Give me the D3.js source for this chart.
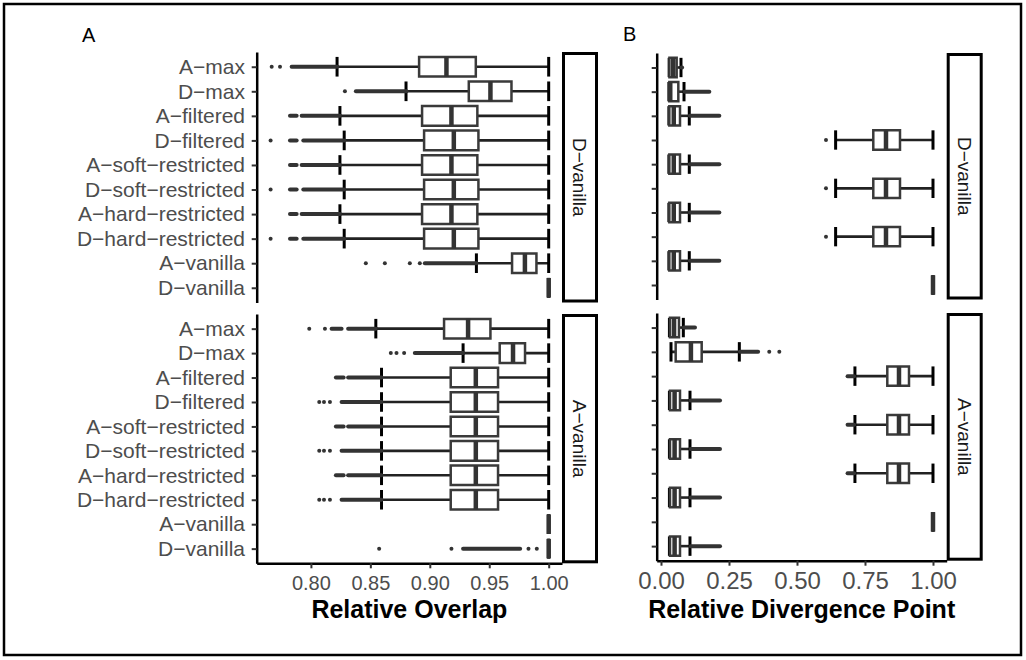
<!DOCTYPE html>
<meta charset="utf-8">
<style>
body{margin:0;background:#fff;}
text{font-family:"Liberation Sans",Arial,Helvetica,sans-serif;}
.domain{stroke:#000;stroke-width:2.5px;}
.tick line{stroke:#333;stroke-width:2px;}
.tick text{fill:#4d4d4d;}
.title{font-weight:bold;font-size:25px;text-anchor:middle;fill:#000;}
.letter{font-size:20px;fill:#000;}
.strip rect{fill:#fff;stroke:#000;stroke-width:3px;}
.strip text{fill:#1a1a1a;font-size:19px;text-anchor:middle;}
</style>
<body>
<script src="https://cdn.jsdelivr.net/npm/d3@7"></script>
<script>

var methods = ["A−max","D−max","A−filtered","D−filtered","A−soft−restricted","D−soft−restricted",
	"A−hard−restricted","D−hard−restricted","A−vanilla","D−vanilla"];
var facets = ["D−vanilla","A−vanilla"];
var overlapTicks = [0.80,0.85,0.90,0.95,1.00];
var divergenceTicks = [0.00,0.25,0.50,0.75,1.00];

// [lower whisker, Q1, median, Q3, upper whisker] per method
var overlapDV = [
	[0.822,0.891,0.914,0.9387,1.0],
	[0.880,0.9328,0.951,0.9687,1.0],
	[0.8244,0.8935,0.9182,0.940,1.0],
	[0.828,0.8952,0.9202,0.9409,1.0],
	[0.8244,0.8935,0.9182,0.940,1.0],
	[0.828,0.8952,0.9202,0.9409,1.0],
	[0.8244,0.8935,0.9182,0.940,1.0],
	[0.828,0.8952,0.9202,0.9409,1.0],
	[0.9392,0.9692,0.980,0.9897,1.0],
	[1,1,1,1,1]
];
var overlapDVDots = [[0.767,0.774],[0.8286],[],[0.7661],[],[0.7661],[],[0.7661],[0.8462,0.8622,0.8832,0.8916],[]];
var overlapDVRuns = [[[0.7838,0.8221]],[[0.8378,0.8804]],
	[[0.7824,0.7880],[0.7922,0.8244]],[[0.7824,0.7880],[0.7936,0.8280]],
	[[0.7824,0.7880],[0.7922,0.8244]],[[0.7824,0.7880],[0.7936,0.8280]],
	[[0.7824,0.7880],[0.7922,0.8244]],[[0.7824,0.7880],[0.7936,0.8280]],
	[[0.8958,0.9392]],[]];

var overlapAV = [
	[0.8546,0.912,0.9322,0.951,1.0],
	[0.928,0.9588,0.970,0.9801,1.0],
	[0.8594,0.9176,0.9387,0.9574,1.0],
	[0.8594,0.9176,0.9387,0.9574,1.0],
	[0.8594,0.9176,0.9387,0.9574,1.0],
	[0.8594,0.9176,0.9387,0.9574,1.0],
	[0.8594,0.9176,0.9387,0.9574,1.0],
	[0.8594,0.9176,0.9387,0.9574,1.0],
	[1,1,1,1,1],
	[1,1,1,1,1]
];
var overlapAVDots = [[0.7986,0.8118],[0.8672,0.872,0.8784],[],[0.807,0.811,0.816],[],[0.807,0.811,0.816],[],[0.807,0.811,0.816],[],[0.8574,0.9182,0.983,0.990]];
var overlapAVRuns = [[[0.8174,0.8258],[0.8313,0.8546]],[[0.8874,0.928]],
	[[0.821,0.8275],[0.8313,0.8594]],[[0.8258,0.8594]],
	[[0.821,0.8275],[0.8313,0.8594]],[[0.8258,0.8594]],
	[[0.821,0.8275],[0.8313,0.8594]],[[0.8258,0.8594]],
	[],[[0.928,0.976]]];

var divergenceDV = [
	[0.030,0.031,0.045,0.0576,0.0735],
	[0.029,0.0306,0.034,0.0637,0.0846],
	[0.029,0.0306,0.047,0.0699,0.104],
	[0.642,0.7805,0.8272,0.8787,1.0],
	[0.029,0.0306,0.047,0.0699,0.104],
	[0.642,0.7805,0.8272,0.8787,1.0],
	[0.029,0.0306,0.047,0.0699,0.104],
	[0.642,0.7805,0.8272,0.8787,1.0],
	[0.029,0.0306,0.047,0.0699,0.104],
	[1,1,1,1,1]
];
var divergenceDVDots = [[],[],[],[0.6066],[],[0.6066],[],[0.6066],[],[]];
var divergenceDVRuns = [[[0.0755,0.0775]],[[0.087,0.1777]],[[0.106,0.2145]],[],
	[[0.106,0.2145]],[],[[0.106,0.2145]],[],[[0.106,0.2145]],[]];

var divergenceAV = [
	[0.031,0.0331,0.048,0.0662,0.0821],
	[0.0368,0.054,0.110,0.1496,0.288],
	[0.713,0.832,0.875,0.9118,1.0],
	[0.031,0.0331,0.05,0.0699,0.1066],
	[0.713,0.832,0.875,0.9118,1.0],
	[0.031,0.0331,0.05,0.0699,0.1066],
	[0.713,0.832,0.875,0.9118,1.0],
	[0.031,0.0331,0.05,0.0699,0.1066],
	[1,1,1,1,1],
	[0.031,0.0331,0.05,0.0699,0.1066]
];
var divergenceAVDots = [[],[0.398,0.435],[],[],[],[],[],[],[],[]];
var divergenceAVRuns = [[[0.084,0.125]],[[0.29,0.357]],[[0.686,0.710]],[[0.109,0.217]],
	[[0.686,0.710]],[[0.109,0.217]],[[0.686,0.710]],[[0.109,0.217]],[],[[0.109,0.217]]];

var panels = [
	{letter:"A", lx:82, ly:42, x0:256.7, x1:562, domain:[0.7544,1.0112], ticks:overlapTicks,
	 tickFont:20, tickPad:7.5, title:"Relative Overlap", labels:true,
	 facetY:[[52,302.5],[314,563.3]],
	 stats:[overlapDV,overlapAV], dots:[overlapDVDots,overlapAVDots], runs:[overlapDVRuns,overlapAVRuns]},
	{letter:"B", lx:623, ly:41, x0:656.7, x1:946.7, domain:[-0.0158,1.0504], ticks:divergenceTicks,
	 tickFont:24, tickPad:6, title:"Relative Divergence Point", labels:false,
	 facetY:[[53,299.5],[313,560.7]],
	 stats:[divergenceDV,divergenceAV], dots:[divergenceDVDots,divergenceAVDots], runs:[divergenceDVRuns,divergenceAVRuns]}
];

var svg = d3.select("body").append("svg").attr("width",1026).attr("height",660);
svg.append("rect").attr("width",1026).attr("height",660).attr("fill","#fff");
svg.append("rect").attr("x",4).attr("y",4).attr("width",1017).attr("height",651)
	.attr("fill","none").attr("stroke","#000").attr("stroke-width",2.5);

panels.forEach(function(p){
	var x = d3.scaleLinear().domain(p.domain).range([p.x0,p.x1]);

	svg.append("text").attr("class","letter").attr("x",p.lx).attr("y",p.ly).text(p.letter);

	facets.forEach(function(f,i){
		var y = d3.scalePoint().domain(methods).range(p.facetY[i]).padding(0.6);
		var h = y.step()*0.4;
		var rows = methods.map(function(m,j){
			return {m:m, s:p.stats[i][j], dots:p.dots[i][j], runs:p.runs[i][j]};
		});
		var g = svg.append("g");

		// errorbar: line plus caps
		g.selectAll(".eb").data(rows).join("line")
			.attr("x1",d=>x(d.s[0])).attr("x2",d=>x(d.s[4]))
			.attr("y1",d=>y(d.m)).attr("y2",d=>y(d.m))
			.attr("stroke","#222").attr("stroke-width",2.6);
		rows.forEach(function(d){
			[d.s[0],d.s[4]].forEach(function(v){
				g.append("line").attr("x1",x(v)).attr("x2",x(v))
					.attr("y1",y(d.m)-h).attr("y2",y(d.m)+h)
					.attr("stroke","#000").attr("stroke-width",3);
			});
		});

		// outliers
		rows.forEach(function(d){
			g.selectAll(null).data(d.runs).join("line")
				.attr("x1",r=>x(r[0])).attr("x2",r=>x(r[1]))
				.attr("y1",y(d.m)).attr("y2",y(d.m))
				.attr("stroke","#333").attr("stroke-width",4).attr("stroke-linecap","round");
			g.selectAll(null).data(d.dots).join("circle")
				.attr("cx",v=>x(v)).attr("cy",y(d.m)).attr("r",2).attr("fill","#333");
		});

		// boxes
		g.selectAll(".box").data(rows).join("path")
			.attr("d",function(d){
				var a=x(d.s[1]), b=x(d.s[3]), c=y(d.m);
				return "M"+a+","+(c-h)+"H"+b+"V"+(c+h)+"H"+a+"Z";
			})
			.attr("fill","#fff").attr("stroke","#3a3a3a").attr("stroke-width",2.5);
		g.selectAll(".med").data(rows).join("line")
			.attr("x1",d=>x(d.s[2])).attr("x2",d=>x(d.s[2]))
			.attr("y1",d=>y(d.m)-h).attr("y2",d=>y(d.m)+h)
			.attr("stroke","#333").attr("stroke-width",4.5);

		// y axis
		var ya = g.append("g").attr("transform","translate("+p.x0+",0)")
			.call(d3.axisLeft(y).tickSize(5).tickSizeOuter(0).tickPadding(6.7));
		ya.selectAll("text").attr("font-size",21);
		if(!p.labels) ya.selectAll("text").remove();

		// x axis on the lower facet only
		if(i==1){
			var xa = g.append("g").attr("transform","translate(0,"+p.facetY[1][1]+")")
				.call(d3.axisBottom(x).tickValues(p.ticks).tickFormat(d3.format(".2f"))
					.tickSize(5).tickSizeOuter(0).tickPadding(p.tickPad));
			xa.selectAll("text").attr("font-size",p.tickFont);
		}

		// strip
		var st = svg.append("g").attr("class","strip");
		st.append("rect").attr("x",p.x1+1.5).attr("y",p.facetY[i][0]+1.5)
			.attr("width",33).attr("height",p.facetY[i][1]-p.facetY[i][0]-3);
		var cx = p.x1+18, cy = (p.facetY[i][0]+p.facetY[i][1])/2;
		st.append("text").attr("transform","translate("+cx+","+cy+") rotate(90)")
			.attr("dy","0.35em").text(f);
	});

	svg.append("text").attr("class","title").attr("x",(p.x0+p.x1)/2).attr("y",618).text(p.title);
});
</script>
</body>
</html>
